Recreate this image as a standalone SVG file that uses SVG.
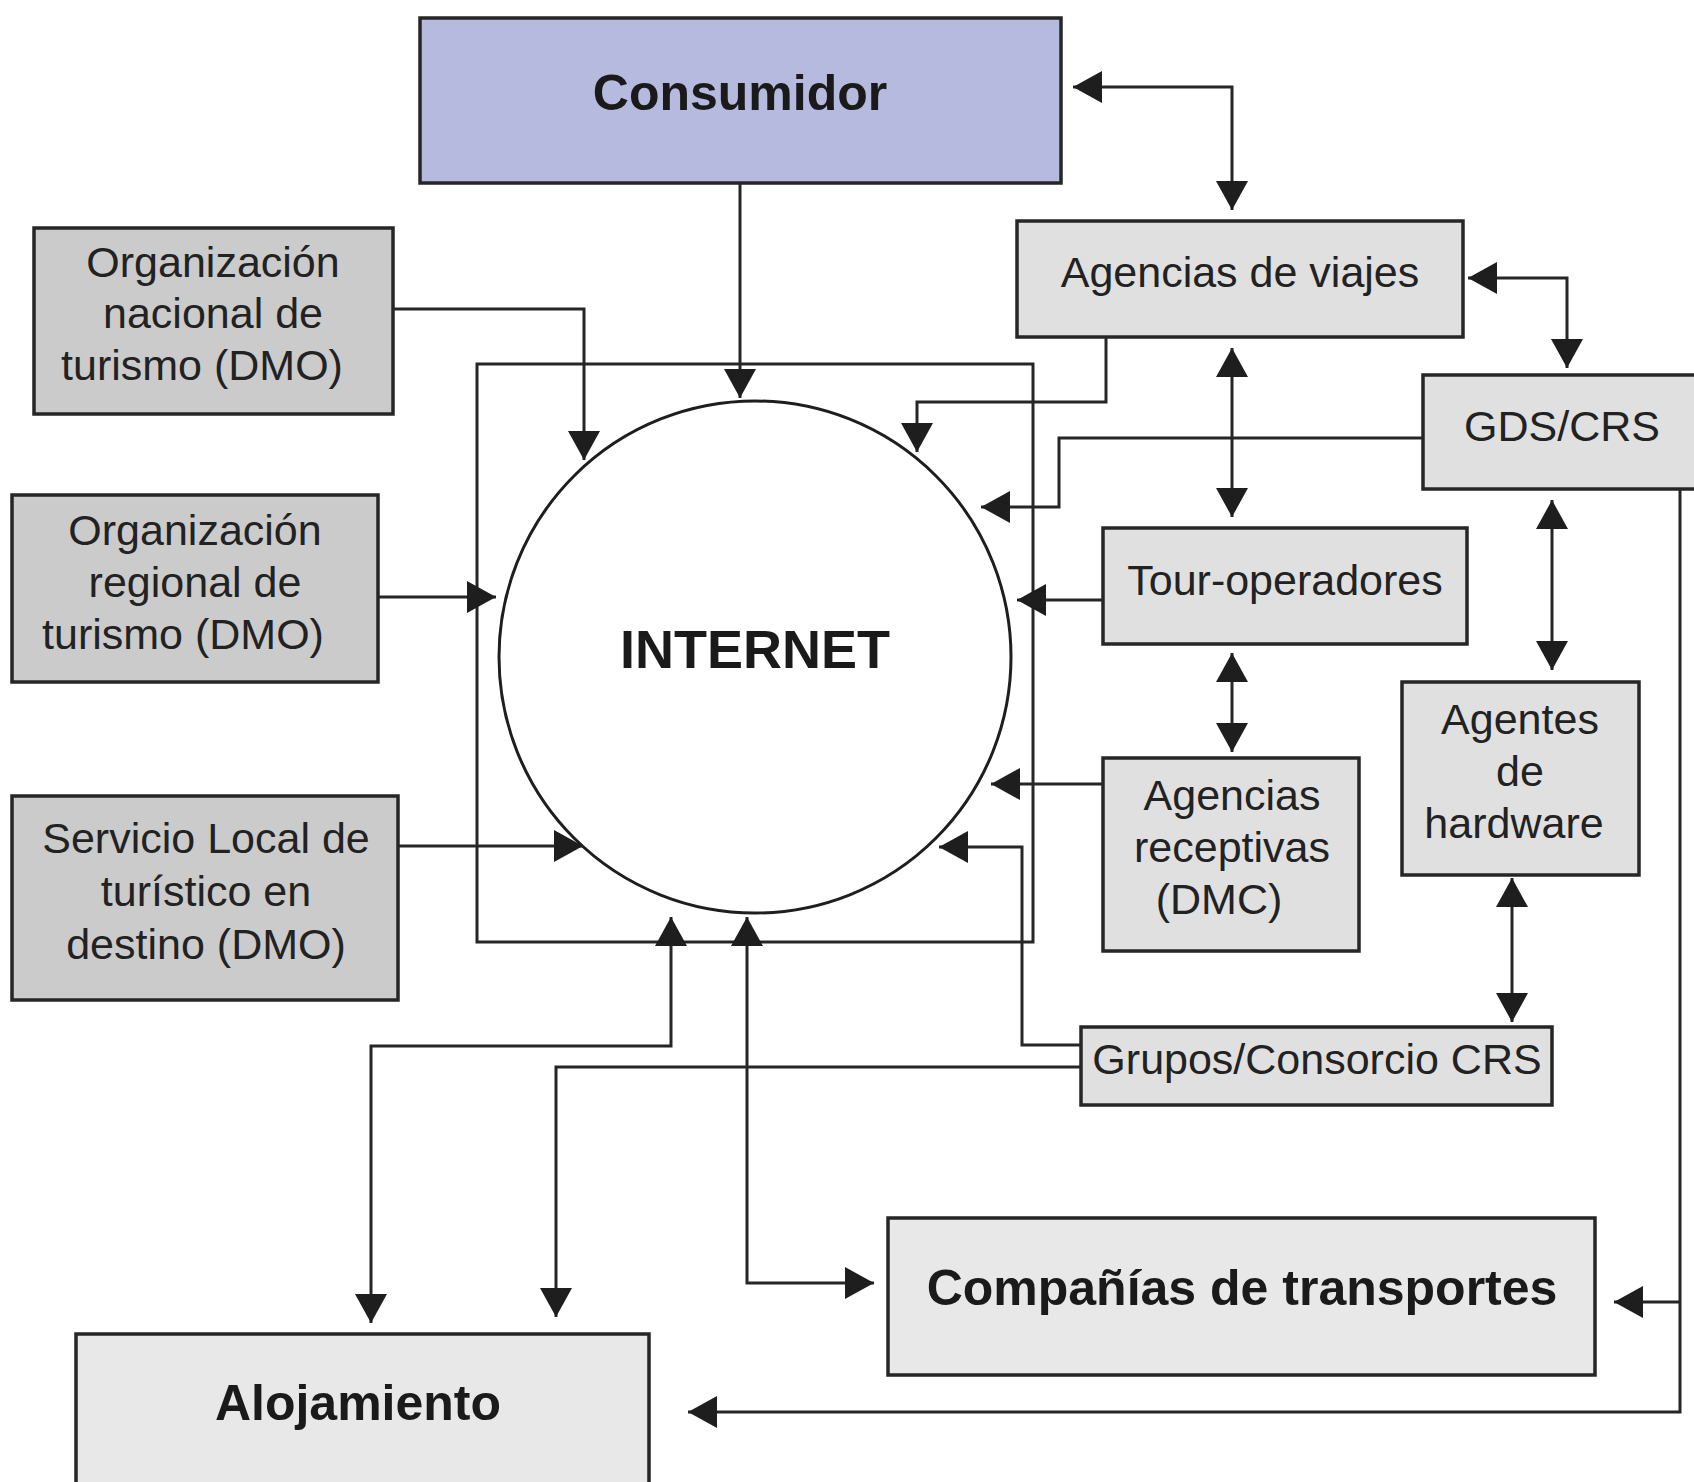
<svg xmlns="http://www.w3.org/2000/svg" width="1694" height="1482" viewBox="0 0 1694 1482">
<style>
  .box { stroke: #262626; stroke-width: 3.5; }
  .lav { fill: #b6badf; }
  .dark { fill: #cbcbcb; }
  .light { fill: #e0e0e0; }
  .pale { fill: #e8e8e8; }
  .t { font-family: "Liberation Sans", Arial, sans-serif; font-size: 43px; fill: #222; text-anchor: middle; }
  .b { font-family: "Liberation Sans", Arial, sans-serif; font-size: 50px; font-weight: bold; fill: #1a1a1a; text-anchor: middle; }
  .big { font-size: 54px; }
  .c { fill: none; stroke: #262626; stroke-width: 3; }
</style>
<defs>
  <marker id="ah" markerUnits="userSpaceOnUse" markerWidth="30" markerHeight="34" refX="29" refY="16" orient="auto-start-reverse" viewBox="0 0 30 32">
    <path d="M0,0 L29,16 L0,32 z" fill="#1e1e1e"/>
  </marker>
</defs>
<rect width="1694" height="1482" fill="#ffffff"/>

<g id="frame">
  <rect x="477" y="364" width="556" height="578" fill="none" stroke="#262626" stroke-width="3"/>
</g>

<g id="internet">
  <circle cx="755" cy="657" r="256" fill="#ffffff" stroke="#1e1e1e" stroke-width="3"/>
  <text class="b big" x="755" y="668">INTERNET</text>
</g>

<g id="consumidor">
  <rect class="box lav" x="420" y="18" width="641" height="165"/>
  <text class="b" x="740" y="110">Consumidor</text>
</g>

<g id="org-nacional">
  <rect class="box dark" x="34" y="228" width="359" height="186"/>
  <text class="t" x="213" y="277">Organización</text>
  <text class="t" x="213" y="328">nacional de</text>
  <text class="t" x="202" y="380">turismo (DMO)</text>
</g>

<g id="org-regional">
  <rect class="box dark" x="12" y="495" width="366" height="187"/>
  <text class="t" x="195" y="545">Organización</text>
  <text class="t" x="195" y="597">regional de</text>
  <text class="t" x="183" y="649">turismo (DMO)</text>
</g>

<g id="servicio-local">
  <rect class="box dark" x="12" y="796" width="386" height="204"/>
  <text class="t" x="206" y="853">Servicio Local de</text>
  <text class="t" x="206" y="906">turístico en</text>
  <text class="t" x="206" y="959">destino (DMO)</text>
</g>

<g id="agencias-viajes">
  <rect class="box light" x="1017" y="221" width="446" height="116"/>
  <text class="t" x="1240" y="287">Agencias de viajes</text>
</g>

<g id="gds-crs">
  <rect class="box light" x="1423" y="375" width="290" height="114"/>
  <text class="t" x="1562" y="441">GDS/CRS</text>
</g>

<g id="tour-operadores">
  <rect class="box light" x="1103" y="528" width="364" height="116"/>
  <text class="t" x="1285" y="595">Tour-operadores</text>
</g>

<g id="agencias-receptivas">
  <rect class="box light" x="1103" y="758" width="256" height="193"/>
  <text class="t" x="1232" y="810">Agencias</text>
  <text class="t" x="1232" y="862">receptivas</text>
  <text class="t" x="1219" y="914">(DMC)</text>
</g>

<g id="agentes-hardware">
  <rect class="box light" x="1402" y="682" width="237" height="193"/>
  <text class="t" x="1520" y="734">Agentes</text>
  <text class="t" x="1520" y="786">de</text>
  <text class="t" x="1514" y="838">hardware</text>
</g>

<g id="grupos-consorcio">
  <rect class="box light" x="1081" y="1027" width="471" height="78"/>
  <text class="t" x="1317" y="1074">Grupos/Consorcio CRS</text>
</g>

<g id="companias-transportes">
  <rect class="box pale" x="888" y="1218" width="707" height="157"/>
  <text class="b" x="1242" y="1305">Compañías de transportes</text>
</g>

<g id="alojamiento">
  <rect class="box pale" x="76" y="1334" width="573" height="170"/>
  <text class="b" x="358" y="1420">Alojamiento</text>
</g>

<g id="connectors">
  <path class="c" d="M740,183 V398" marker-end="url(#ah)"/>
  <path class="c" d="M393,309 H584 V460" marker-end="url(#ah)"/>
  <path class="c" d="M378,597 H496" marker-end="url(#ah)"/>
  <path class="c" d="M398,846 H583" marker-end="url(#ah)"/>
  <path class="c" d="M1073,87 H1232 V210" marker-start="url(#ah)" marker-end="url(#ah)"/>
  <path class="c" d="M1106,337 V402 H917 V452" marker-end="url(#ah)"/>
  <path class="c" d="M1232,348 V517" marker-start="url(#ah)" marker-end="url(#ah)"/>
  <path class="c" d="M1468,278 H1567 V368" marker-start="url(#ah)" marker-end="url(#ah)"/>
  <path class="c" d="M1423,438 H1059 V507 H981" marker-end="url(#ah)"/>
  <path class="c" d="M1103,600 H1017" marker-end="url(#ah)"/>
  <path class="c" d="M1232,653 V752" marker-start="url(#ah)" marker-end="url(#ah)"/>
  <path class="c" d="M1103,784 H991" marker-end="url(#ah)"/>
  <path class="c" d="M1081,1045 H1022 V847 H939" marker-end="url(#ah)"/>
  <path class="c" d="M1552,500 V670" marker-start="url(#ah)" marker-end="url(#ah)"/>
  <path class="c" d="M1512,878 V1022" marker-start="url(#ah)" marker-end="url(#ah)"/>
  <path class="c" d="M1081,1067 H556 V1317" marker-end="url(#ah)"/>
  <path class="c" d="M671,917 V1046 H371 V1323" marker-start="url(#ah)" marker-end="url(#ah)"/>
  <path class="c" d="M747,917 V1283 H874" marker-start="url(#ah)" marker-end="url(#ah)"/>
  <path class="c" d="M1680,489 V1412 H688" marker-end="url(#ah)"/>
  <path class="c" d="M1680,1302 H1614" marker-end="url(#ah)"/>
</g>
</svg>
